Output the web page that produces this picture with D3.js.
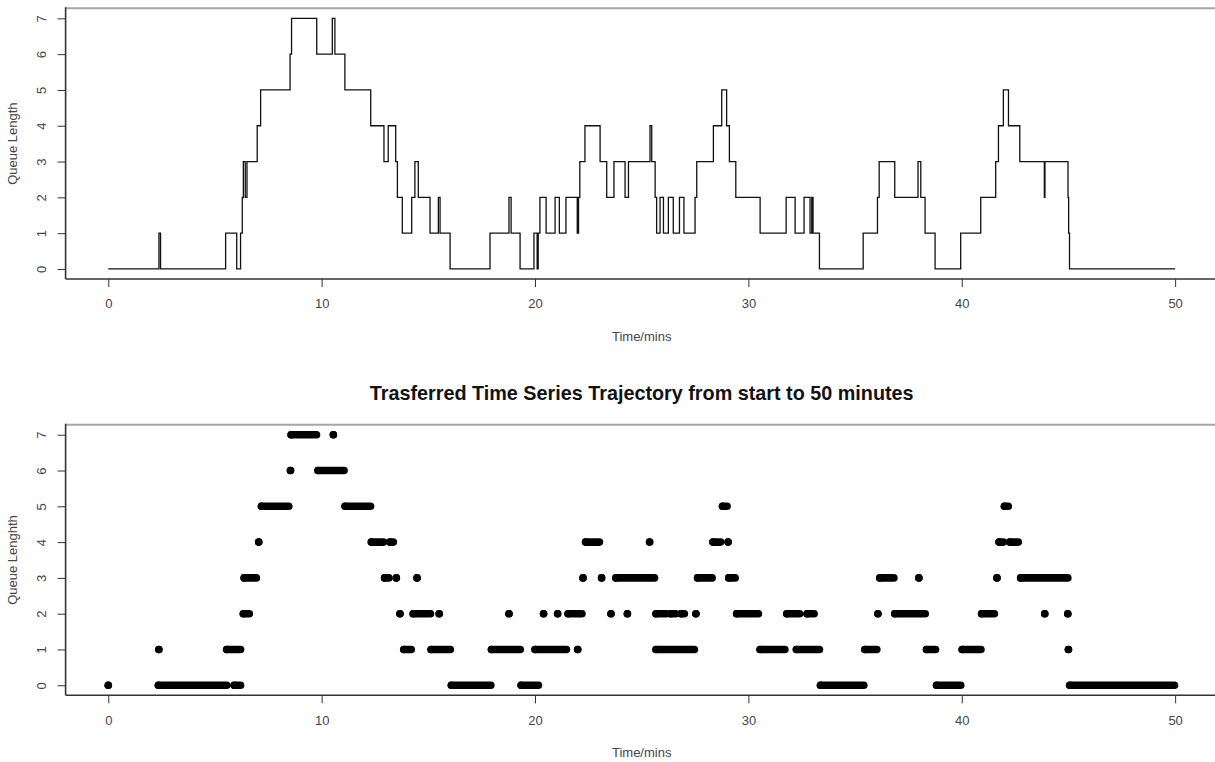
<!DOCTYPE html>
<html>
<head>
<meta charset="utf-8">
<script src="https://cdn.jsdelivr.net/npm/d3@7"></script>
<style>
  body { margin: 0; background: white; }
  svg { display: block; font-family: "Liberation Sans", Arial, sans-serif; }
</style>
</head>
<body>
<script>
var width = 1215;
var height = 762;

// step function: time of each change (min) and queue length after it
var stepTimes = [0, 2.375, 2.45, 5.5, 6.02, 6.2, 6.28, 6.33, 6.42, 6.5, 6.98, 7.14, 8.52, 8.59, 9.77, 10.5, 10.62, 11.09,
  12.3, 12.92, 13.12, 13.47, 13.55, 13.78, 14.22, 14.37, 14.53, 15.08, 15.47, 15.55, 16.02, 17.89, 18.78, 18.88, 19.3,
  19.95, 20.1, 20.15, 20.23, 20.52, 20.94, 21.14, 21.45, 21.98, 22.04, 22.1, 22.34, 23.05, 23.36, 23.7, 24.22, 24.38,
  25.39, 25.47, 25.63, 25.7, 25.86, 26.02, 26.25, 26.48, 26.77, 26.98, 27.5, 27.58, 28.36, 28.75, 28.98, 29.11, 29.41,
  30.55, 31.77, 32.19, 32.61, 32.89, 32.97, 33.03, 33.33, 35.38, 36.05, 36.13, 36.86, 37.95, 38.08, 38.28, 38.75,
  39.95, 40.89, 41.59, 41.72, 41.95, 42.19, 42.72, 43.87, 43.9, 44.98, 45.01, 45.05, 50];
var stepLevels = [0, 1, 0, 1, 0, 1, 2, 3, 2, 3, 4, 5, 6, 7, 6, 7, 6, 5,
  4, 3, 4, 3, 2, 1, 2, 3, 2, 1, 2, 1, 0, 1, 2, 1, 0,
  1, 0, 1, 2, 1, 2, 1, 2, 1, 2, 3, 4, 3, 2, 3, 2, 3,
  4, 3, 2, 1, 2, 1, 2, 1, 2, 1, 2, 3, 4, 5, 4, 3, 2,
  1, 2, 1, 2, 1, 2, 1, 0, 1, 2, 3, 2, 3, 2, 1, 0,
  1, 2, 3, 4, 5, 4, 3, 2, 3, 2, 1, 0, 0];

// transferred series: runs of points [from, to, queue length]
var pointRuns = [
  [0, 0, 0], [2.35, 5.55, 0], [5.9, 6.2, 0], [16.08, 17.93, 0], [19.35, 20.16, 0], [33.38, 35.41, 0], [38.82, 39.95, 0], [45.06, 49.97, 0],
  [2.37, 2.37, 1], [5.55, 6.2, 1], [13.85, 14.2, 1], [15.13, 16.03, 1], [17.96, 19.31, 1], [20.0, 21.47, 1], [22.0, 22.0, 1],
  [25.67, 27.47, 1], [30.55, 31.71, 1], [32.25, 33.33, 1], [35.46, 36.02, 1], [38.35, 38.77, 1], [40.02, 40.9, 1], [45.0, 45.0, 1],
  [6.33, 6.61, 2], [13.67, 13.67, 2], [14.29, 15.1, 2], [15.51, 15.51, 2], [18.78, 18.78, 2], [20.4, 20.4, 2], [21.06, 21.06, 2],
  [21.55, 22.2, 2], [23.56, 23.56, 2], [24.33, 24.33, 2], [25.67, 26.15, 2], [26.35, 26.6, 2], [26.85, 27.0, 2], [27.54, 27.54, 2],
  [29.45, 30.47, 2], [31.8, 32.4, 2], [32.75, 33.08, 2], [36.07, 36.07, 2], [36.86, 38.29, 2], [40.93, 41.53, 2], [43.89, 43.89, 2], [44.97, 44.97, 2],
  [6.37, 6.94, 3], [12.95, 13.15, 3], [13.5, 13.5, 3], [14.47, 14.47, 3], [22.25, 22.25, 3], [23.12, 23.12, 3], [23.79, 25.6, 3],
  [27.62, 28.3, 3], [29.08, 29.38, 3], [36.16, 36.82, 3], [37.99, 37.99, 3], [41.65, 41.65, 3], [42.76, 44.97, 3],
  [7.05, 7.05, 4], [12.33, 12.9, 4], [13.2, 13.36, 4], [22.37, 23.02, 4], [25.37, 25.37, 4], [28.34, 28.7, 4], [29.05, 29.05, 4],
  [41.75, 41.95, 4], [42.25, 42.65, 4],
  [7.18, 8.46, 5], [11.1, 12.29, 5], [28.79, 29.0, 5], [42.0, 42.18, 5],
  [8.54, 8.54, 6], [9.83, 11.05, 6],
  [8.57, 9.76, 7], [10.55, 10.55, 7]
];

var xTicks = [0, 10, 20, 30, 40, 50];
var yTicks = [0, 1, 2, 3, 4, 5, 6, 7];
var mainTitle = "Trasferred Time Series Trajectory from start to 50 minutes";

var svg = d3.select("body").append("svg")
  .attr("width", width)
  .attr("height", height);

var xScale = d3.scaleLinear().domain([-2, 52]).range([65.6, 1217.8]);

function drawFrame(top, bottom, yLabel) {
  var yScale = d3.scaleLinear().domain([-0.28, 7.28]).range([bottom, top]);
  var g = svg.append("g");

  var xAxis = g.append("g")
    .attr("transform", "translate(0," + bottom + ")")
    .call(d3.axisBottom(xScale).tickValues(xTicks).tickSize(8).tickPadding(12));
  xAxis.select(".domain").remove();
  xAxis.selectAll("line").attr("stroke", "#333");
  xAxis.selectAll("text").attr("font-size", 13).attr("fill", "#444");

  var yAxis = g.append("g")
    .attr("transform", "translate(" + xScale.range()[0] + ",0)")
    .call(d3.axisLeft(yScale).tickValues(yTicks).tickSize(8));
  yAxis.select(".domain").remove();
  yAxis.selectAll("line").attr("stroke", "#333");
  yAxis.selectAll("text")
    .attr("font-size", 13)
    .attr("fill", "#444")
    .attr("text-anchor", "middle")
    .attr("transform", "rotate(-90)")
    .attr("x", 0)
    .attr("y", -24)
    .attr("dy", "0.35em");

  // box: grey top, dark left and bottom
  g.append("line")
    .attr("x1", xScale.range()[0]).attr("x2", width)
    .attr("y1", top).attr("y2", top)
    .attr("stroke", "#a6a6a6").attr("stroke-width", 2);
  g.append("line")
    .attr("x1", xScale.range()[0]).attr("x2", xScale.range()[0])
    .attr("y1", top - 1).attr("y2", bottom)
    .attr("stroke", "#333").attr("stroke-width", 1.6);
  g.append("line")
    .attr("x1", xScale.range()[0]).attr("x2", width)
    .attr("y1", bottom).attr("y2", bottom)
    .attr("stroke", "#333").attr("stroke-width", 1.6);

  g.append("text")
    .attr("x", (xScale.range()[0] + xScale.range()[1]) / 2)
    .attr("y", bottom + 57)
    .attr("dy", "0.35em")
    .attr("text-anchor", "middle")
    .attr("font-size", 13)
    .attr("fill", "#444")
    .text("Time/mins");

  g.append("text")
    .attr("transform", "translate(12," + ((top + bottom) / 2) + ") rotate(-90)")
    .attr("dy", "0.35em")
    .attr("text-anchor", "middle")
    .attr("font-size", 13)
    .attr("fill", "#444")
    .text(yLabel);

  return yScale;
}

// top panel: step line
var yTop = drawFrame(8.3, 279, "Queue Length");
var stepData = stepTimes.map(function(t, i) { return {t: t, q: stepLevels[i]}; });
var stepLine = d3.line()
  .x(function(d) { return xScale(d.t); })
  .y(function(d) { return yTop(d.q); })
  .curve(d3.curveStepAfter);
svg.append("path")
  .datum(stepData)
  .attr("d", stepLine)
  .attr("fill", "none")
  .attr("stroke", "#111")
  .attr("stroke-width", 1.3);

// bottom panel: points
var yBot = drawFrame(424.7, 695.3, "Queue Lenghth");

svg.append("text")
  .attr("x", (xScale.range()[0] + xScale.range()[1]) / 2)
  .attr("y", 393.5)
  .attr("dy", "0.35em")
  .attr("text-anchor", "middle")
  .attr("font-size", 19.8)
  .attr("font-weight", "bold")
  .attr("fill", "#111")
  .text(mainTitle);

var dotR = 3.8;
svg.selectAll(".run")
  .data(pointRuns)
  .enter()
  .append("line")
  .attr("class", "run")
  .attr("x1", function(d) { return xScale(d[0]); })
  .attr("x2", function(d) { return xScale(d[1]); })
  .attr("y1", function(d) { return yBot(d[2]); })
  .attr("y2", function(d) { return yBot(d[2]); })
  .attr("stroke", "#000")
  .attr("stroke-width", dotR * 2)
  .attr("stroke-linecap", "round");

svg.selectAll(".dot")
  .data(pointRuns)
  .enter()
  .append("circle")
  .attr("class", "dot")
  .attr("cx", function(d) { return xScale(d[0]); })
  .attr("cy", function(d) { return yBot(d[2]); })
  .attr("r", dotR)
  .attr("fill", "#000");
</script>
</body>
</html>
